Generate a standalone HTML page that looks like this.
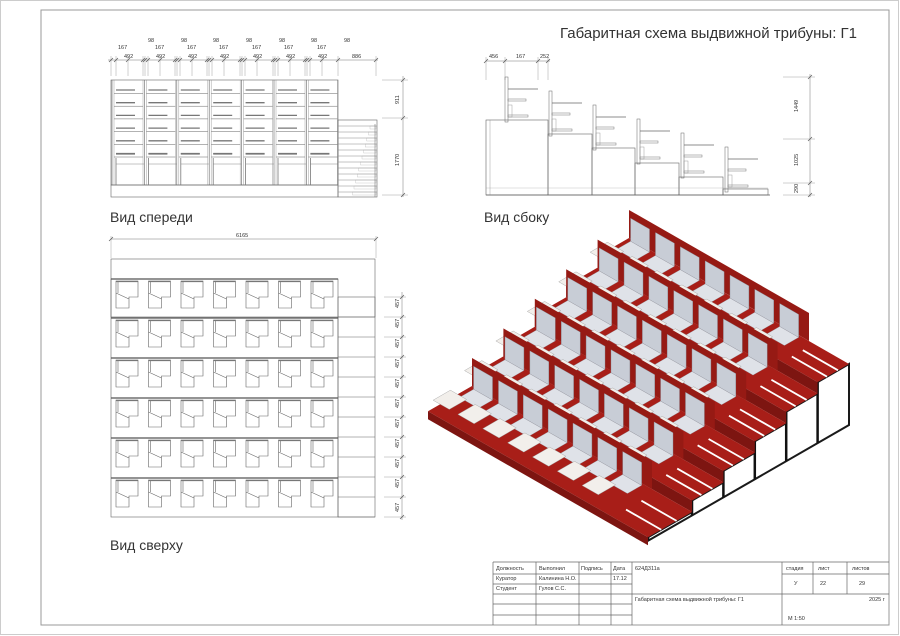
<!DOCTYPE html>
<html><head><meta charset="utf-8">
<style>
html,body{margin:0;padding:0;background:#fff;}
svg{display:block;}
text{font-family:"Liberation Sans","DejaVu Sans",sans-serif;fill:#333;}
</style></head>
<body>
<svg id="s" width="900" height="636" viewBox="0 0 900 636" xmlns="http://www.w3.org/2000/svg">
<rect x="0.5" y="0.5" width="898" height="634" fill="none" stroke="#ccc" stroke-width="1"/>
<rect x="41" y="10" width="848" height="615" fill="none" stroke="#999" stroke-width="1"/>
<g id="g" stroke-linecap="butt"></g>
<text x="560" y="38" font-size="15" fill="#444">Габаритная схема выдвижной трибуны: Г1</text>
<text x="110" y="222" font-size="14">Вид спереди</text>
<text x="484" y="222" font-size="14">Вид сбоку</text>
<text x="110" y="550" font-size="14">Вид сверху</text>
<g font-size="5.5">
<text x="118" y="49">167</text><text x="124" y="58">492</text>
<text x="148" y="42">98</text><text x="155" y="49">167</text><text x="156" y="58">492</text>
<text x="181" y="42">98</text><text x="187" y="49">167</text><text x="188" y="58">492</text>
<text x="213" y="42">98</text><text x="219" y="49">167</text><text x="220" y="58">492</text>
<text x="246" y="42">98</text><text x="252" y="49">167</text><text x="253" y="58">492</text>
<text x="279" y="42">98</text><text x="284" y="49">167</text><text x="286" y="58">492</text>
<text x="311" y="42">98</text><text x="317" y="49">167</text><text x="318" y="58">492</text>
<text x="344" y="42">98</text><text x="352" y="58">886</text>
<text x="236" y="237">6165</text>
<text x="489" y="58">456</text><text x="516" y="58">167</text><text x="540" y="58">252</text>
</g>
<g font-size="5.5">
<text transform="translate(399,104) rotate(-90)">911</text>
<text transform="translate(399,166) rotate(-90)">1770</text>
<text transform="translate(798,112) rotate(-90)">1449</text>
<text transform="translate(798,166) rotate(-90)">1025</text>
<text transform="translate(798,193) rotate(-90)">290</text>
<text transform="translate(399,308) rotate(-90)">457</text>
<text transform="translate(399,328) rotate(-90)">457</text>
<text transform="translate(399,348) rotate(-90)">457</text>
<text transform="translate(399,368) rotate(-90)">457</text>
<text transform="translate(399,388) rotate(-90)">457</text>
<text transform="translate(399,408) rotate(-90)">457</text>
<text transform="translate(399,428) rotate(-90)">457</text>
<text transform="translate(399,448) rotate(-90)">457</text>
<text transform="translate(399,468) rotate(-90)">457</text>
<text transform="translate(399,488) rotate(-90)">457</text>
<text transform="translate(399,512) rotate(-90)">457</text>
</g>
<g stroke="#666" stroke-width="0.7" fill="none">
<line x1="493" y1="562" x2="889" y2="562"/>
<line x1="493" y1="562" x2="493" y2="625"/>
<line x1="536" y1="562" x2="536" y2="625"/>
<line x1="579" y1="562" x2="579" y2="625"/>
<line x1="611" y1="562" x2="611" y2="625"/>
<line x1="632" y1="562" x2="632" y2="625"/>
<line x1="782" y1="562" x2="782" y2="625"/>
<line x1="813" y1="562" x2="813" y2="594"/>
<line x1="847" y1="562" x2="847" y2="594"/>
<line x1="493" y1="574" x2="632" y2="574"/>
<line x1="782" y1="574" x2="889" y2="574"/>
<line x1="493" y1="584" x2="632" y2="584"/>
<line x1="493" y1="594" x2="889" y2="594"/>
<line x1="493" y1="604" x2="632" y2="604"/>
<line x1="493" y1="615" x2="632" y2="615"/>
</g>
<g font-size="5.5" fill="#444">
<text x="496" y="570">Должность</text><text x="539" y="570">Выполнил</text><text x="581" y="570">Подпись</text><text x="613" y="570">Дата</text>
<text x="635" y="570">624Д311а</text>
<text x="786" y="570">стадия</text><text x="818" y="570">лист</text><text x="852" y="570">листов</text>
<text x="496" y="580">Куратор</text><text x="539" y="580">Калинина Н.О.</text><text x="613" y="580">17.12</text>
<text x="496" y="590">Студент</text><text x="539" y="590">Гулов С.С.</text>
<text x="794" y="585">У</text><text x="820" y="585">22</text><text x="859" y="585">29</text>
<text x="635" y="601">Габаритная схема выдвижной    трибуны: Г1</text>
<text x="869" y="601">2025 г</text>
<text x="788" y="620">М 1:50</text>
</g>
</svg>
<script>
var g=document.getElementById('g');var NS='http://www.w3.org/2000/svg';
function el(t,a){var e=document.createElementNS(NS,t);for(var k in a)e.setAttribute(k,a[k]);g.appendChild(e);return e;}
function ok(){for(var i=0;i<arguments.length;i++){var v=+arguments[i];if(!isFinite(v)||v<3)return false;}return true;}
function ln(x1,y1,x2,y2,c,w){if(!ok(x1,y1,x2,y2))return;el('line',{x1:x1,y1:y1,x2:x2,y2:y2,stroke:c||'#666','stroke-width':w||0.6});}
function rc(x,y,w,h,c,sw,f){el('rect',{x:x,y:y,width:w,height:h,fill:f||'none',stroke:c||'#666','stroke-width':sw||0.6});}
function pg(pts,f,s,w){for(var i=0;i<pts.length;i++){if(!ok(pts[i][0],pts[i][1]))return;}el('polygon',{points:pts.map(function(p){return p[0].toFixed(1)+','+p[1].toFixed(1)}).join(' '),fill:f,stroke:s||'none','stroke-width':w||0});}
function ad(a,b){return [a[0]+b[0],a[1]+b[1]];}function mu(a,k){return [a[0]*k,a[1]*k];}
function tick(x,y){ln(x-2,y+2,x+2,y-2,'#555',0.6);}
// front view
rc(111,80,227,105);rc(111,185,227,12);
ln(108,60,378,60,'#777',0.5);
var tx=[111,116,128,143,145,148,160,175,177,180,192,207,209,212,224,240,242,245,257,273,275,278,290,305,307,310,322,338,376];
tx.forEach(function(x){ln(x,56,x,76,'#888',0.4);tick(x,60);});
for(var c=0;c<7;c++){var x0=111+c*32.4;
 ln(x0+1,80,x0+1,185);ln(x0+3,80,x0+3,185,'#888',0.4);ln(x0+32,80,x0+32,185,'#888',0.4);
 for(var r=0;r<6;r++){var y=90+r*12.7;ln(x0+5,y,x0+24,y,'#777',1.3);ln(x0+3,y+3.5,x0+32,y+3.5,'#666',0.5);}
 ln(x0+5,154,x0+24,154,'#777',1.3);ln(x0+5,158,x0+5,185,'#777',0.8);ln(x0+5,164,x0+33,164,'#888',0.5);
}
rc(338,120,39,77);
for(var i=0;i<12;i++){var y=126+i*6;ln(338,y,377,y,'#888',0.5);rc(338+32-i*1.6,y,6+i*1.6,3,'#aaa',0.3);}
ln(375,124,375,197,'#666',0.5);
ln(382,80,408,80,'#888',0.4);ln(382,118,408,118,'#888',0.4);ln(382,195,408,195,'#888',0.4);
ln(403,76,403,197,'#777',0.5);tick(403,80);tick(403,118);tick(403,195);
// side view
ln(486,61,550,61,'#777',0.5);[486,505,538,548].forEach(function(x){ln(x,57,x,80,'#888',0.4);tick(x,61);});
var sx=[486,548,592,635,679,723,768],sy=[120,134,148,163,177,189];
ln(486,195,770,195,'#555',0.7);
for(var i=0;i<6;i++){rc(sx[i],sy[i],sx[i+1]-sx[i],195-sy[i],'#666',0.6);
 var cx=507+i*44,cy=77+i*14;
 rc(cx-2,cy,3,45,'#666',0.5);ln(cx+1,cy+12,cx+31,cy+12,'#666',0.8);rc(cx+1,cy+22,18,2,'#777',0.5);rc(cx+1,cy+38,20,2,'#777',0.5);
 rc(cx+1,cy+28,4,12,'#888',0.4);}
ln(490,120,490,195,'#888',0.4);ln(486,188,768,188,'#999',0.3);
ln(783,77,815,77,'#888',0.4);ln(783,139,815,139,'#888',0.4);ln(783,183,815,183,'#888',0.4);ln(783,195,815,195,'#888',0.4);
ln(810,74,810,197,'#777',0.5);[77,139,183,195].forEach(function(y){tick(810,y);});
// top view
ln(111,239,376,239,'#777',0.5);ln(111,236,111,258,'#888',0.4);ln(376,236,376,258,'#888',0.4);tick(111,239);tick(376,239);
rc(111,259,264,58);rc(338,297,37,220);rc(111,279,227,238);
for(var i=0;i<11;i++){ln(338,317+i*20,375,317+i*20,'#666',0.5);}
[279,318,358,398,438,478].forEach(function(ry){ln(111,ry,338,ry,'#555',1.2);
 for(var k=0;k<7;k++){var x=116+k*32.5,y=ry+2;
  el('path',{d:'M'+x+','+y+' h22 v16 h-9 v11 h-13 z M'+x+','+(y+12)+' L'+(x+13)+','+(y+18)+' M'+(x+2)+','+y+' v12',fill:'none',stroke:'#666','stroke-width':0.6});
  ln(x,y+0.5,x+22,y+0.5,'#777',1.2);}
});
ln(402,292,402,520,'#777',0.5);
for(var i=0;i<12;i++){var y=297+i*20;ln(384,y,406,y,'#888',0.4);tick(402,y);}
// isometric
var H=28,L=[220,126],Lp=[180,103],F=[-31.4,18.1],D=[0,11.5];
function P(i){return [629-31.4*i,210+29.6*i];}
var C=[];for(var i=0;i<6;i++)C.push(ad(ad(P(i),[0,H]),L));
var base=ad(C[0],[0,61]);
var pts=[];for(var i=0;i<6;i++){pts.push(C[i]);pts.push(ad(C[i],i==5?mu(F,1.4):F));}
var g5=ad(ad(base,mu(F,5)),mu(F,1.4));pts.push(g5);pts.push(base);
pg(pts,'#fff','#1a1a1a',2);
for(var i=0;i<6;i++){var tp=ad(C[i],F);var gr=ad(base,mu(F,i+1));if(i==5){tp=ad(C[i],mu(F,1.4));gr=g5;}ln(tp[0],tp[1],gr[0],gr[1],'#111',2.5);}
for(var i=0;i<6;i++){
 var p=P(i),A=ad(p,[0,H]),Fi=(i==5)?mu(F,1.4):F,Di=(i==5)?[0,8]:D;
 pg([A,ad(A,L),ad(ad(A,L),Fi),ad(A,Fi)],'#a81e18');
 pg([ad(A,Fi),ad(ad(A,L),Fi),ad(ad(ad(A,L),Fi),Di),ad(ad(A,Fi),Di)],'#7d1511');
 for(var s=0;s<2;s++){var a1=ad(ad(A,mu(L,0.84)),mu(Fi,0.35+s*0.35)),a2=ad(ad(A,L),mu(Fi,0.35+s*0.35));ln(a1[0],a1[1],a2[0],a2[1],'#fff',1.8);}
 pg([p,ad(p,Lp),ad(ad(p,Lp),[0,H]),ad(p,[0,H])],'#961a14');
 for(var k=0;k<7;k++){var t0=0.03+k*0.138;var b=ad(ad(p,mu(Lp,t0)),ad([0,3],mu(F,0.12)));var w=mu(Lp,0.105);
  pg([b,ad(b,w),ad(ad(b,w),[0,H-5]),ad(b,[0,H-5])],'#c8cdd6','#8a909a',0.4);
  var sb=ad(b,[0,H-5]);pg([sb,ad(sb,w),ad(ad(sb,w),mu(F,0.45)),ad(sb,mu(F,0.45))],'#dfe2e8','#8a909a',0.3);
  var dp=ad(ad(b,mu(F,0.55)),[-6,H*0.5]);var dw=mu(Lp,0.09);var dd=mu(F,0.55);
  pg([dp,ad(dp,dw),ad(ad(dp,dw),dd),ad(dp,dd)],'#f2efeb','#9a9a9a',0.4);
 }
}
</script>
</body></html>
